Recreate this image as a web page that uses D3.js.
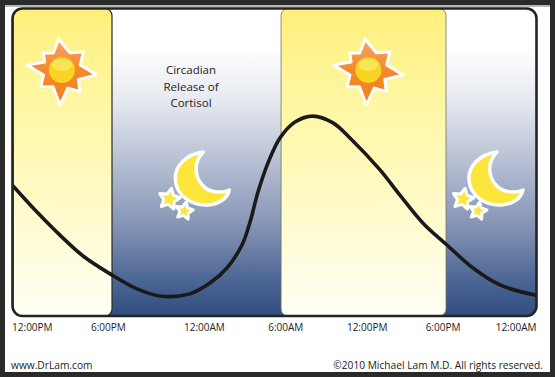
<!DOCTYPE html>
<html>
<head>
<meta charset="utf-8">
<script src="https://cdn.jsdelivr.net/npm/d3@7"></script>
<style>
html, body { margin: 0; padding: 0; background: #2a2a2a; }
svg { display: block; }
text { font-family: "Open Sans", sans-serif; fill: #222; }
</style>
</head>
<body>
<div id="chart"></div>
<script>
/* Circadian release of cortisol, x is hours counted from the midnight before the first noon */
const curveHours = [10.89, 12.61, 14.26, 15.92, 17.86, 19.8, 21.45, 23.6, 25.04, 26.26, 27.34, 27.92, 28.49, 29.21, 30.07, 31.15, 32.44, 33.88, 35.1, 37.26, 38.69, 40.35, 42.07, 43.94, 45.88, 48.39];
const curveLevels = [42.3, 33.8, 26.3, 19.5, 13.7, 8.8, 6.5, 7.2, 10.7, 15.6, 23.1, 30.6, 40.3, 49.8, 57.9, 63.1, 65, 62.8, 57.9, 47.5, 39.3, 30.2, 23.1, 15.6, 10.1, 6.8];

const tickLabels = ["12:00PM", "6:00PM", "12:00AM", "6:00AM", "12:00PM", "6:00PM", "12:00AM"];
const tickHours = [12.24, 17.7, 24.6, 30.45, 36.3, 41.75, 47];

const dayStart = [10.88, 30.15];
const dayEnd = [18, 42];
const sunHours = [14.4, 36.42];
const moonHours = [24.85, 45.95];
const titleLines = ["Circadian", "Release of", "Cortisol"];

const width = 555, height = 377;
const plot = {left: 12.5, right: 536.5, top: 8.5, bottom: 316};

const svg = d3.select("#chart").append("svg")
    .attr("width", width)
    .attr("height", height);

const x = d3.scaleLinear().domain([18, 42]).range([112, 446]);
const y = d3.scaleLinear().domain([0, 100]).range([plot.bottom, plot.top]);

const defs = svg.append("defs");

const nightGrad = defs.append("linearGradient").attr("id", "night")
    .attr("x1", 0).attr("x2", 0).attr("y1", 0).attr("y2", 1);
[[0, "#ffffff"], [0.12, "#ffffff"], [0.3, "#e6e9f0"], [0.5, "#b6bfd3"], [0.7, "#8795b6"], [0.88, "#4d6795"], [1, "#2f4d7f"]]
    .forEach(s => nightGrad.append("stop").attr("offset", s[0]).attr("stop-color", s[1]));

const dayGrad = defs.append("linearGradient").attr("id", "day")
    .attr("x1", 0).attr("x2", 0).attr("y1", 0).attr("y2", 1);
[[0, "#fff07c"], [0.35, "#fff7a8"], [0.65, "#fffbca"], [1, "#fffff6"]]
    .forEach(s => dayGrad.append("stop").attr("offset", s[0]).attr("stop-color", s[1]));

const sunGrad = defs.append("linearGradient").attr("id", "sunBody")
    .attr("x1", 0).attr("x2", 0).attr("y1", 0).attr("y2", 1);
[[0, "#f6a469"], [0.45, "#f58a2c"], [1, "#f47f20"]]
    .forEach(s => sunGrad.append("stop").attr("offset", s[0]).attr("stop-color", s[1]));

defs.append("clipPath").attr("id", "frameClip")
    .append("rect")
    .attr("x", plot.left).attr("y", plot.top)
    .attr("width", plot.right - plot.left).attr("height", plot.bottom - plot.top)
    .attr("rx", 10);

defs.append("filter").attr("id", "soft")
    .append("feGaussianBlur").attr("stdDeviation", 0.4);

// White page on the dark screenshot background
svg.append("rect").attr("x", 5).attr("y", 5).attr("width", 545).attr("height", 367).attr("fill", "#fff");
svg.append("rect").attr("x", 5).attr("y", 5).attr("width", 545).attr("height", 2).attr("fill", "#b8b8b8");

const plotG = svg.append("g").attr("clip-path", "url(#frameClip)");

plotG.append("rect")
    .attr("x", plot.left).attr("y", plot.top)
    .attr("width", plot.right - plot.left).attr("height", plot.bottom - plot.top)
    .attr("fill", "url(#night)");

plotG.selectAll("rect.day").data(dayStart)
    .enter().append("rect")
    .attr("class", "day")
    .attr("x", d => x(d))
    .attr("y", plot.top)
    .attr("width", (d, i) => x(dayEnd[i]) - x(d))
    .attr("height", plot.bottom - plot.top)
    .attr("rx", 7)
    .attr("fill", "url(#day)")
    .attr("stroke", (d, i) => i === 0 ? "#2b2a1e" : "#77745c")
    .attr("stroke-width", (d, i) => i === 0 ? 1.2 : 0.8);

// Sun icons, 8 points of uneven length joined through a ring of inner corners
const sunAngles = [-6, 25, 50, 75, 98, 120, 140, 162, 183, 208, 232, 255, 278, 295, 312, 333];
const sunRadii = [31, 19, 28, 19, 35, 19, 28, 19, 35, 19, 27, 19, 35, 19, 25, 19];
const sunShape = d3.lineRadial()
    .angle((d, i) => sunAngles[i] * Math.PI / 180)
    .radius(d => d)
    .curve(d3.curveLinearClosed);

const suns = svg.selectAll("g.sun").data(sunHours)
    .enter().append("g")
    .attr("class", "sun")
    .attr("filter", "url(#soft)")
    .attr("transform", d => `translate(${x(d)}, 70)`);
suns.append("path")
    .attr("d", sunShape(sunRadii))
    .attr("fill", "url(#sunBody)")
    .attr("stroke", "#fff")
    .attr("stroke-width", 3)
    .attr("stroke-linejoin", "round");
suns.append("circle").attr("r", 13).attr("fill", "#f9d423");
suns.append("ellipse").attr("cy", -5).attr("rx", 10).attr("ry", 6).attr("fill", "#fbe456");

// Moon icons with their two stars
const moonShape = "M3,-28 C-14,-26 -26,-14 -25,0 C-24,16 -8,26 8,25 C18,24 27,19 29,10 C20,14 8,12 2,5 C-6,-4 -7,-18 3,-28Z";
const starRadii = [1, 0.5, 1, 0.5, 1, 0.5, 1, 0.5, 1, 0.5];
const starShape = r => d3.lineRadial()
    .angle((d, i) => 0.2 + i * Math.PI / 5)
    .radius(d => d * r)
    .curve(d3.curveLinearClosed)(starRadii);

const moons = svg.selectAll("g.moon").data(moonHours)
    .enter().append("g")
    .attr("class", "moon")
    .attr("filter", "url(#soft)")
    .attr("transform", d => `translate(${x(d) - 7}, 180)`);
moons.append("path").attr("d", moonShape)
    .attr("fill", "#fce63a").attr("stroke", "#fff").attr("stroke-width", 3.5).attr("stroke-linejoin", "round");
moons.append("path").attr("d", starShape(11)).attr("transform", "translate(-31, 19)")
    .attr("fill", "#fce63a").attr("stroke", "#fff").attr("stroke-width", 3).attr("stroke-linejoin", "round");
moons.append("path").attr("d", starShape(9)).attr("transform", "translate(-16, 31)")
    .attr("fill", "#fce63a").attr("stroke", "#fff").attr("stroke-width", 3).attr("stroke-linejoin", "round");

// Cortisol curve
const line = d3.line()
    .x(d => x(d[0]))
    .y(d => y(d[1]))
    .curve(d3.curveCatmullRom.alpha(0.5));

plotG.append("path")
    .datum(d3.zip(curveHours, curveLevels))
    .attr("d", line)
    .attr("fill", "none")
    .attr("stroke", "#1b1a1a")
    .attr("stroke-width", 3.6)
    .attr("stroke-linecap", "round");

// Frame
svg.append("rect")
    .attr("x", plot.left).attr("y", plot.top)
    .attr("width", plot.right - plot.left).attr("height", plot.bottom - plot.top)
    .attr("rx", 10)
    .attr("fill", "none")
    .attr("stroke", "#242424")
    .attr("stroke-width", 2.6);

// Tick labels sit under the frame, there are no tick marks
const xAxis = svg.append("g")
    .attr("transform", `translate(0, ${plot.bottom})`)
    .call(d3.axisBottom(x)
        .tickValues(tickHours)
        .tickSize(0)
        .tickPadding(8)
        .tickFormat((d, i) => tickLabels[i]));
xAxis.select(".domain").remove();
xAxis.selectAll("text")
    .style("font-family", '"Open Sans", sans-serif')
    .style("font-size", "10px")
    .attr("fill", "#222");

svg.append("g").selectAll("text").data(titleLines)
    .enter().append("text")
    .attr("x", 191)
    .attr("y", (d, i) => 74 + i * 16.5)
    .attr("text-anchor", "middle")
    .style("font-size", "11.5px")
    .text(d => d);

svg.append("text").attr("x", 11).attr("y", 369).style("font-size", "10.2px").text("www.DrLam.com");
svg.append("text").attr("x", 543).attr("y", 369).attr("text-anchor", "end").style("font-size", "10.2px")
    .text("©2010 Michael Lam M.D. All rights reserved.");
</script>
</body>
</html>
